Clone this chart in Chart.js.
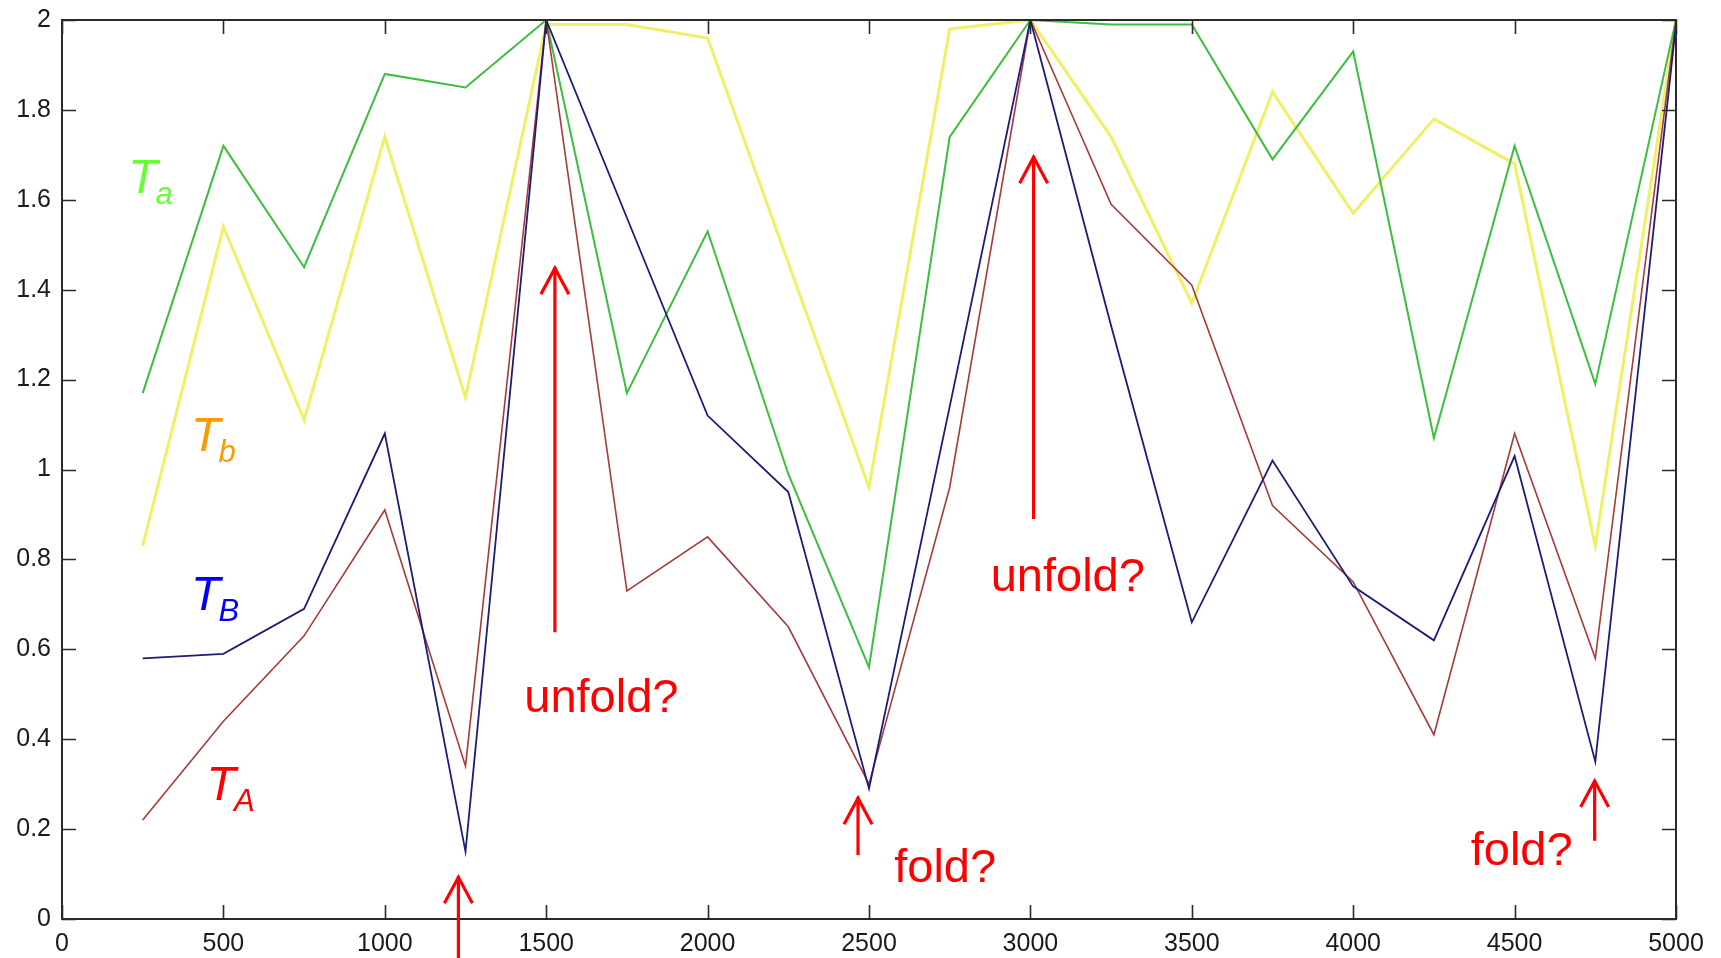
<!DOCTYPE html>
<html>
<head>
<meta charset="utf-8">
<script src="https://cdn.jsdelivr.net/npm/chart.js@4.4.1/dist/chart.umd.min.js"></script>
<style>
  html, body { margin: 0; padding: 0; background: #ffffff; }
  #wrap { width: 1721px; height: 958px; }
</style>
</head>
<body>
<div id="wrap"><canvas id="c" width="1721" height="958"></canvas></div>
<script>
// ---- data ----
const xValues = [250, 500, 750, 1000, 1250, 1500, 1750, 2000, 2250, 2500, 2750, 3000, 3250, 3500, 3750, 4000, 4250, 4500, 4750, 5000];
const seriesTa = [1.17, 1.72, 1.45, 1.88, 1.85, 2.00, 1.17, 1.53, 0.99, 0.56, 1.74, 2.00, 1.99, 1.99, 1.69, 1.93, 1.07, 1.72, 1.19, 2.00];
const seriesTb = [0.83, 1.54, 1.11, 1.74, 1.16, 1.99, 1.99, 1.96, 1.46, 0.96, 1.98, 2.00, 1.74, 1.37, 1.84, 1.57, 1.78, 1.68, 0.83, 2.00];
const seriesTB = [0.58, 0.59, 0.69, 1.08, 0.15, 2.00, 1.56, 1.12, 0.95, 0.29, 1.14, 2.00, 1.32, 0.66, 1.02, 0.74, 0.62, 1.03, 0.35, 1.99];
const seriesTA = [0.22, 0.44, 0.63, 0.91, 0.34, 2.00, 0.73, 0.85, 0.65, 0.30, 0.96, 2.00, 1.59, 1.41, 0.92, 0.75, 0.41, 1.08, 0.58, 2.00];

const xTicks = [0, 500, 1000, 1500, 2000, 2500, 3000, 3500, 4000, 4500, 5000];
const xTickLabels = ['0', '500', '1000', '1500', '2000', '2500', '3000', '3500', '4000', '4500', '5000'];
const yTicks = [0, 0.2, 0.4, 0.6, 0.8, 1, 1.2, 1.4, 1.6, 1.8, 2];
const yTickLabels = ['0', '0.2', '0.4', '0.6', '0.8', '1', '1.2', '1.4', '1.6', '1.8', '2'];

// series name labels: main letter, subscript, position (data units)
const seriesLabelText = ['T', 'T', 'T', 'T'];
const seriesLabelSub = ['a', 'b', 'B', 'A'];
const seriesLabelX = [205, 400, 400, 448];
const seriesLabelY = [1.616, 1.042, 0.687, 0.264];

// annotation texts
const noteText = ['unfold?', 'unfold?', 'fold?', 'fold?'];
const noteX = [1432, 2877, 2578, 4364];
const noteY = [0.46, 0.729, 0.083, 0.12];

// arrows: x, tail y, tip y
const arrowX = [1228, 1527, 2466, 3010, 4748];
const arrowTail = [-0.1, 0.638, 0.142, 0.89, 0.174];
const arrowTip = [0.095, 1.45, 0.271, 1.697, 0.309];

const pts = (ys) => xValues.map((x, i) => ({ x: x, y: ys[i] }));

const tickFont = { family: '"Liberation Sans Narrow", "Liberation Sans", Arial, sans-serif', size: 25 };

const framePlugin = {
  id: 'frame',
  afterDatasetsDraw(chart) {
    const { ctx, chartArea: a, scales } = chart;
    ctx.save();
    ctx.strokeStyle = '#2a2a2a';
    ctx.lineWidth = 2;
    ctx.strokeRect(a.left, a.top, a.right - a.left, a.bottom - a.top);
    const L = 14;
    ctx.beginPath();
    xTicks.forEach(v => {
      const px = Math.round(scales.x.getPixelForValue(v)) + 0.5;
      ctx.moveTo(px, a.bottom); ctx.lineTo(px, a.bottom - L);
      ctx.moveTo(px, a.top); ctx.lineTo(px, a.top + L);
    });
    yTicks.forEach(v => {
      const py = Math.round(scales.y.getPixelForValue(v)) + 0.5;
      ctx.moveTo(a.left, py); ctx.lineTo(a.left + L, py);
      ctx.moveTo(a.right, py); ctx.lineTo(a.right - L, py);
    });
    ctx.lineWidth = 1.6;
    ctx.stroke();
    ctx.restore();
  },
  afterDraw(chart) {
    const { ctx, scales } = chart;
    const sx = v => scales.x.getPixelForValue(v);
    const sy = v => scales.y.getPixelForValue(v);
    ctx.save();
    // series labels
    const labelColors = ['#66ff33', '#ff9900', '#0000ff', '#ff0000'];
    seriesLabelText.forEach((t, i) => {
      const x = sx(seriesLabelX[i]);
      const y = sy(seriesLabelY[i]);
      ctx.fillStyle = labelColors[i];
      ctx.textBaseline = 'alphabetic';
      ctx.textAlign = 'left';
      ctx.font = 'italic 48px "Liberation Sans", Arial, sans-serif';
      ctx.fillText(t, x, y);
      const w = ctx.measureText(t).width;
      ctx.font = 'italic 31px "Liberation Sans", Arial, sans-serif';
      ctx.fillText(seriesLabelSub[i], x + w - 2, y + 11);
    });
    // notes
    ctx.fillStyle = '#ff0000';
    ctx.font = '47px "Liberation Sans", Arial, sans-serif';
    noteText.forEach((t, i) => {
      ctx.fillText(t, sx(noteX[i]), sy(noteY[i]));
    });
    // arrows
    ctx.strokeStyle = '#ff0000';
    ctx.lineWidth = 3.2;
    ctx.lineCap = 'butt';
    arrowX.forEach((xv, i) => {
      const x = sx(xv);
      const y0 = sy(arrowTail[i]);
      const y1 = sy(arrowTip[i]);
      ctx.beginPath();
      ctx.moveTo(x, y0); ctx.lineTo(x, y1);
      ctx.stroke();
      ctx.beginPath();
      ctx.moveTo(x - 14, y1 + 27); ctx.lineTo(x, y1 + 1); ctx.lineTo(x + 14, y1 + 27);
      ctx.stroke();
    });
    ctx.restore();
  }
};

new Chart(document.getElementById('c'), {
  type: 'line',
  data: {
    datasets: [
      { label: 'T_B', data: pts(seriesTB), borderColor: '#1c1c7a', borderWidth: 1.8 },
      { label: 'T_A', data: pts(seriesTA), borderColor: '#a83a3a', borderWidth: 1.6 },
      { label: 'T_a', data: pts(seriesTa), borderColor: '#3cbf3c', borderWidth: 2 },
      { label: 'T_b', data: pts(seriesTb), borderColor: '#f0f066', borderWidth: 3 }
    ]
  },
  options: {
    responsive: false,
    animation: false,
    devicePixelRatio: 1,
    elements: { point: { radius: 0 }, line: { tension: 0 } },
    layout: { padding: { top: 20, right: 45, left: 0, bottom: 0 } },
    plugins: { legend: { display: false }, tooltip: { enabled: false } },
    scales: {
      x: {
        type: 'linear', min: 0, max: 5000,
        afterBuildTicks: a => { a.ticks = xTicks.map(v => ({ value: v })); },
        afterFit: a => { a.height = 39; a.paddingLeft = 0; a.paddingRight = 0; },
        grid: { display: false, drawTicks: false },
        border: { display: false },
        ticks: {
          padding: 10, color: '#1a1a1a', font: tickFont, maxRotation: 0, autoSkip: false,
          callback: (v) => { const k = xTicks.indexOf(v); return k >= 0 ? xTickLabels[k] : ''; }
        }
      },
      y: {
        type: 'linear', min: 0, max: 2,
        afterBuildTicks: a => { a.ticks = yTicks.map(v => ({ value: v })); },
        afterFit: a => { a.width = 62; a.paddingTop = 0; a.paddingBottom = 0; },
        grid: { display: false, drawTicks: false },
        border: { display: false },
        ticks: {
          padding: 11, color: '#1a1a1a', font: tickFont, autoSkip: false,
          callback: (v) => { const k = yTicks.findIndex(t => Math.abs(t - v) < 1e-9); return k >= 0 ? yTickLabels[k] : ''; }
        }
      }
    }
  },
  plugins: [framePlugin]
});
</script>
</body>
</html>
